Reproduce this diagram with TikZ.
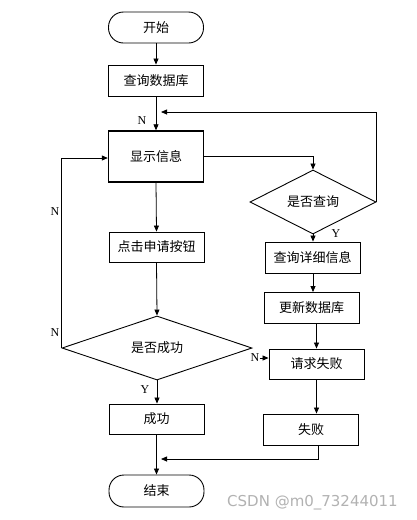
\documentclass[tikz,border=0pt]{standalone}
\usepackage{fontspec}
\setmainfont{Liberation Serif}
\newfontfamily\cjk{Noto Sans CJK SC}
\newfontfamily\wmfont{DejaVu Sans}
\usetikzlibrary{arrows.meta,shapes.geometric}
\begin{document}
\begin{tikzpicture}[x=1pt,y=-1pt,
  box/.style={draw, line width=0.9pt, minimum width=95pt, minimum height=31pt, inner sep=0pt, font=\cjk\fontsize{13}{15}\selectfont},
  boldbox/.style={box, line width=1.4pt},
  term/.style={box, rounded corners=15pt},
  dia/.style={draw, diamond, line width=0.9pt, inner sep=0pt, font=\cjk\fontsize{13}{15}\selectfont},
  conn/.style={line width=0.8pt, -{Triangle[length=6pt,width=5pt]}},
  lab/.style={font=\fontsize{12}{14}\selectfont, inner sep=0pt}]
\useasboundingbox (0,0) rectangle (416,520);
\fill[white] (0,0) rectangle (416,520);
% nodes
\node[term] (start) at (156,27.5) {开始};
\node[box] (query) at (156,80.5) {查询数据库};
\node[boldbox, minimum height=51pt] (show) at (156,156.5) {显示信息};
\node[dia, minimum width=126pt, minimum height=50pt] (d1) at (313,202) {是否查询};
\node[box] (detail) at (312.5,257.5) {查询详细信息};
\node[box] (update) at (311.5,308) {更新数据库};
\node[box, minimum height=30pt] (btn) at (156.5,247) {点击申请按钮};
\node[dia, minimum width=190pt, minimum height=50pt] (d2) at (157,348) {是否成功};
\node[box, minimum height=30pt] (req) at (316.5,364) {请求失败};
\node[box] (fail) at (311,429.5) {失败};
\node[box, minimum height=30pt] (ok) at (156.5,419) {成功};
\node[term, minimum height=32pt] (end) at (156.5,491) {结束};
% labels
\node[lab] (n1) at (142,121) {N};
\node[lab] (n2) at (55,212) {N};
\node[lab] (n3) at (55,333) {N};
\node[lab] (n4) at (255,358) {N};
\node[lab] (y1) at (336,234) {Y};
\node[lab] (y2) at (145,390) {Y};
% junction coordinates
\coordinate (j1) at (161,112);
\coordinate (j2) at (161,459);
% connectors
\draw[conn] (start) -- (query);
\draw[conn] (query) -- (show);
\draw[conn] (d1.east) |- (j1);
\draw[conn] (show.east) -| (d1.north);
\draw[conn] (d1.south) -- (detail.north -| d1.south);
\draw[conn] (detail.south -| d1.south) -- (update.north -| d1.south);
\draw[conn] (update.south -| req.north) -- (req.north);
\draw[conn] (n4.east) -- (req.west |- n4.east);
\draw[conn] (req.south) -- (fail.north -| req.south);
\draw[conn] ([xshift=7pt]fail.south) |- (j2);
\draw[conn] (show.south) -- (btn.north);
\draw[conn] (btn.south) -- (d2.north);
\draw[conn] (d2.west) |- ([yshift=-1.5pt]show.west);
\draw[conn] (d2.south) -- (ok.north -| d2.south);
\draw[conn] (ok.south) -- (end.north);
% watermark
\node[font=\wmfont\fontsize{15}{17}\selectfont, text=black!30, inner sep=0pt] (wm) at (312.5,502.5) {CSDN @m0\_73244011};
\end{tikzpicture}
\end{document}
